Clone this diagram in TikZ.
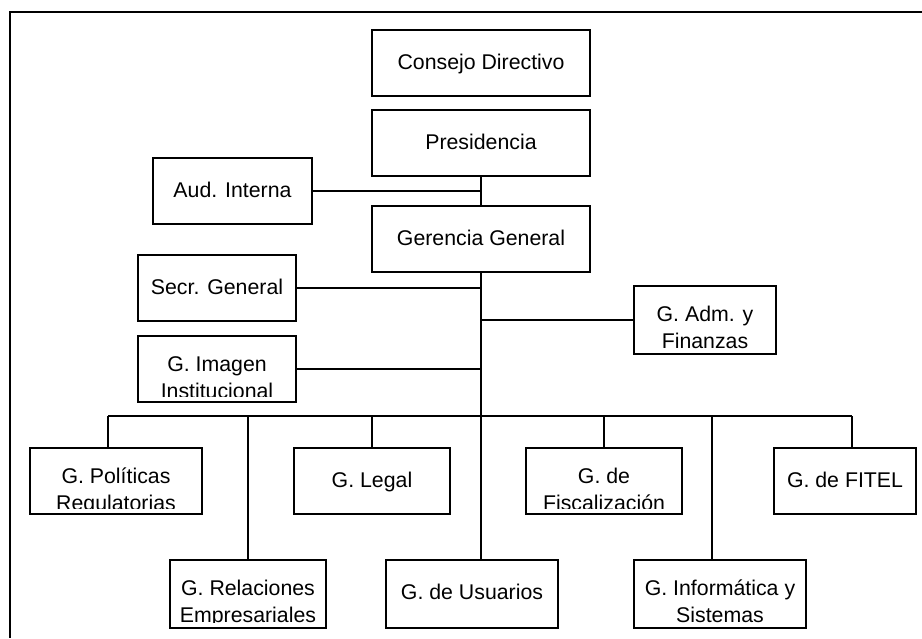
\documentclass[tikz,border=0pt]{standalone}
\usepackage{fontspec}
\setmainfont{Liberation Sans}
\usetikzlibrary{positioning,calc}
\tikzset{
  unit/.style={draw,line width=1.8pt,inner sep=0pt,fill=white},
  utext/.style={font=\fontsize{21.3}{27}\selectfont,align=center,inner sep=0pt,anchor=north,execute at begin node=\strut},
  link/.style={line width=1.8pt},
}
\begin{document}
\begin{tikzpicture}[x=1pt,y=-1pt]
\useasboundingbox (0,0) rectangle (922,638);
% frame (only top and left edge show)
\draw[link] (922,12) -- (10,12) -- (10,638);
% boxes: name/x/y/width/height/text
\foreach \n/\x/\y/\w/\h/\txt in {
  cd/481/63/218/66/{Consejo Directivo},
  pre/481/143/218/66/{Presidencia},
  aud/232.5/191/159/66/{Aud. Interna},
  gg/481/239/218/66/{Gerencia General},
  sec/217/288/158/66/{Secr. General},
  adm/705/320/142/68/{G. Adm. y\\Finanzas},
  img/217/369/158/66/{G. Imagen\\Institucional},
  pol/116/481/172/66/{G. Políticas\\Regulatorias},
  leg/372/481/156/66/{G. Legal},
  fis/604/481/156/66/{G. de\\Fiscalización},
  fit/845/481/142/66/{G. de FITEL},
  rel/248/594/156/68/{G. Relaciones\\Empresariales},
  usu/472/594/172/68/{G. de Usuarios},
  inf/720/594/172/68/{G. Informática y\\Sistemas}}{
  \node[unit,minimum width=\w pt,minimum height=\h pt] (\n) at (\x,\y) {};
  \begin{scope}
    \clip (\n.north west) rectangle ([yshift=6pt]\n.south east);
    \node[utext] (\n-t) at ([yshift=-21pt]\n.north) {\txt};
  \end{scope}
}
% upper chain
\draw[link] (pre) -- (gg);
\draw[link] (aud.east) -- (aud.east -| pre.south);
\draw[link] (gg.south) -- (gg.south |- usu.north);
\draw[link] (sec.east) -- (sec.east -| gg.south);
\draw[link] (adm.west) -- (adm.west -| gg.south);
\draw[link] (img.east) -- (img.east -| gg.south);
% bus to the gerencias
\coordinate (bus) at (481,416);
\coordinate (dpol) at ([xshift=-8pt]pol.north);
\coordinate (dfit) at ([xshift=7pt]fit.north);
\coordinate (dinf) at ([xshift=-8pt]inf.north);
\draw[link] (dpol |- bus) -- (dfit |- bus);
\foreach \d in {dpol,rel.north,leg.north,fis.north,dfit,dinf}{
  \draw[link] (\d) -- (\d |- bus);
}
\end{tikzpicture}
\end{document}
